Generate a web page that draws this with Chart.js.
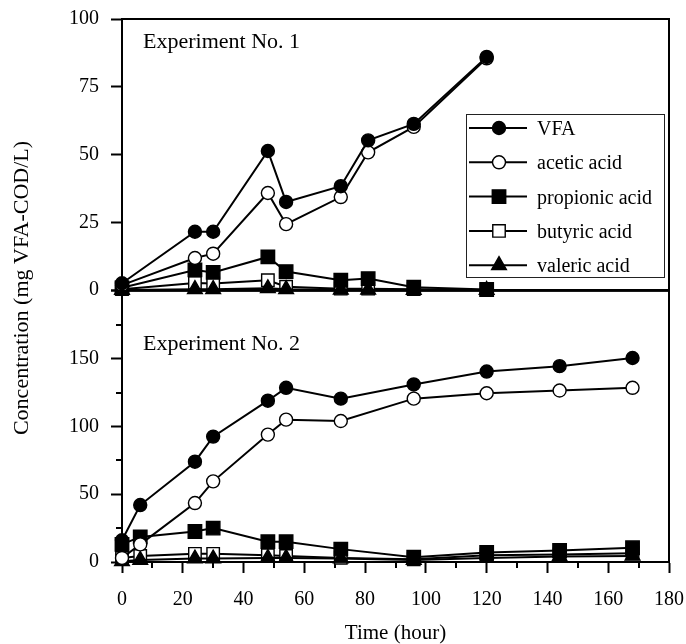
<!DOCTYPE html>
<html>
<head>
<meta charset="utf-8">
<script src="https://cdn.jsdelivr.net/npm/chart.js@4.4.0/dist/chart.umd.min.js"></script>
<style>
html,body{margin:0;padding:0;background:#fff;}
#wrap{position:relative;width:686px;height:644px;overflow:hidden;background:#fff;}
canvas{position:absolute;left:0;}
#c1{top:0;}
#c2{top:280px;}
</style>
</head>
<body>
<div id="wrap">
<canvas id="c1" width="686" height="644"></canvas>
<canvas id="c2" width="686" height="364"></canvas>
</div>
<script>
// ---------- data ----------
const seriesNames = ['VFA', 'acetic acid', 'propionic acid', 'butyric acid', 'valeric acid'];

// Experiment No. 1
const time1      = [0, 24, 30, 48, 54, 72, 81, 96, 120];
const vfa1       = [2.5, 21.5, 21.5, 51.3, 32.5, 38.3, 55.2, 61.3, 86];
const acetic1    = [1.8, 11.8, 13.4, 35.8, 24.3, 34.3, 50.8, 60.2, 85.5];
const propionic1 = [0.8, 7.4, 6.5, 12.2, 6.8, 3.6, 4.2, 1.0, 0.2];
const butyric1   = [0.3, 2.6, 2.4, 3.6, 1.2, 0.5, 0.5, 0.3, 0];
const valeric1   = [0, 0.3, 0.3, 0.6, 0.3, 0.1, 0.1, 0, 0];

// Experiment No. 2
const time2      = [0, 6, 24, 30, 48, 54, 72, 96, 120, 144, 168];
const vfa2       = [16, 42, 74, 92.5, 119, 128.5, 120.5, 131, 140.5, 144.5, 150.5];
const acetic2    = [3, 13, 43.5, 59.5, 94, 105, 104, 120.5, 124.5, 126.5, 128.5];
const propionic2 = [13, 18.5, 22.5, 25, 15, 15, 9.5, 3.5, 7, 8.5, 10.5];
const butyric2   = [3, 4.5, 6, 6, 5, 4.5, 3, 2, 5, 5.5, 6.5];
const valeric2   = [0.5, 1.5, 2.5, 2.5, 3, 3, 2.5, 1.5, 3, 4, 4.5];

// ticks and labels
const xTicks = [0, 20, 40, 60, 80, 100, 120, 140, 160, 180];
const xMinorTicks = [10, 30, 50, 70, 90, 110, 130, 150, 170];
const yTicksTop = [0, 25, 50, 75, 100];
const yTicksBottom = [0, 50, 100, 150, 200];
const yLabelsBottom = ['0', '50', '100', '150', ''];
const yMinorTicksBottom = [25, 75, 125, 175];
const panelLabels = ['Experiment No. 1', 'Experiment No. 2'];
const xTitle = 'Time (hour)';
const yTitle = 'Concentration (mg VFA-COD/L)';

// ---------- styles ----------
const FONT = "'Liberation Serif', 'Times New Roman', Times, serif";
Chart.defaults.font.family = FONT;
Chart.defaults.color = '#000';

const markerStyles = [
  {pointStyle: 'circle',   radius: 6.5, fill: '#000', order: 0},
  {pointStyle: 'circle',   radius: 6.5, fill: '#fff', order: 1},
  {pointStyle: 'rect',     radius: 9.5, fill: '#000', order: 3},
  {pointStyle: 'rect',     radius: 8.8, fill: '#fff', order: 4},
  {pointStyle: 'triangle', radius: 8.5, fill: '#000', order: 2}
];

function makeDatasets(t, arrs) {
  return arrs.map((vals, i) => ({
    label: seriesNames[i],
    data: t.map((x, j) => ({x: x, y: vals[j]})),
    borderColor: '#000',
    borderWidth: 2,
    backgroundColor: markerStyles[i].fill,
    pointBackgroundColor: markerStyles[i].fill,
    pointBorderColor: '#000',
    pointBorderWidth: 1.4,
    pointRadius: markerStyles[i].radius,
    pointStyle: markerStyles[i].pointStyle,
    order: markerStyles[i].order,
    clip: false,
    tension: 0,
    fill: false
  }));
}

function noPad(s) {
  s.paddingTop = 0; s.paddingBottom = 0; s.paddingLeft = 0; s.paddingRight = 0;
}

// ---------- plugins ----------
const framePlugin = {
  id: 'frame',
  beforeDatasetsDraw(chart) {
    const {ctx, chartArea: a} = chart;
    ctx.save();
    ctx.strokeStyle = '#000';
    ctx.lineWidth = 2;
    ctx.strokeRect(a.left, a.top, a.right - a.left, a.bottom - a.top);
    ctx.restore();
  }
};

const minorTickPlugin = {
  id: 'minorTicks',
  beforeDatasetsDraw(chart, args, opts) {
    if (!opts || !opts.enabled) return;
    const {ctx, scales} = chart;
    ctx.save();
    ctx.strokeStyle = '#000';
    ctx.lineWidth = 2;
    (opts.x || []).forEach(v => {
      const px = Math.round(scales.x.getPixelForValue(v));
      const y0 = chart.chartArea.bottom;
      ctx.beginPath(); ctx.moveTo(px, y0); ctx.lineTo(px, y0 + opts.len); ctx.stroke();
    });
    (opts.y || []).forEach(v => {
      const py = Math.round(scales.y.getPixelForValue(v));
      const x0 = chart.chartArea.left;
      ctx.beginPath(); ctx.moveTo(x0, py); ctx.lineTo(x0 - opts.len, py); ctx.stroke();
    });
    ctx.restore();
  }
};

const textPlugin = {
  id: 'panelText',
  afterDatasetsDraw(chart, args, opts) {
    if (!opts || !opts.text) return;
    const {ctx, chartArea: a} = chart;
    ctx.save();
    ctx.fillStyle = '#000';
    ctx.font = opts.size + 'px ' + FONT;
    ctx.textAlign = 'left';
    ctx.textBaseline = 'alphabetic';
    ctx.fillText(opts.text, a.left + opts.dx, a.top + opts.dy);
    if (opts.yTitle) {
      ctx.translate(opts.yTitleX, opts.yTitleY);
      ctx.rotate(-Math.PI / 2);
      ctx.textAlign = 'center';
      ctx.textBaseline = 'middle';
      ctx.font = opts.yTitleSize + 'px ' + FONT;
      ctx.fillText(opts.yTitle, 0, 0);
    }
    ctx.restore();
  }
};

function drawMarker(ctx, style, x, y) {
  ctx.fillStyle = style.fill;
  ctx.strokeStyle = '#000';
  ctx.lineWidth = 1.4;
  if (Chart.helpers && Chart.helpers.drawPoint) {
    Chart.helpers.drawPoint(ctx, {pointStyle: style.pointStyle, radius: style.radius, rotation: 0, borderWidth: 1.4}, x, y);
  } else {
    ctx.beginPath(); ctx.arc(x, y, style.radius, 0, Math.PI * 2); ctx.fill(); ctx.stroke();
  }
}

const boxLegendPlugin = {
  id: 'boxLegend',
  afterDatasetsDraw(chart, args, opts) {
    if (!opts || !opts.enabled) return;
    const {ctx, chartArea: a} = chart;
    const ds = chart.data.datasets;
    const left = a.left + opts.dx, top = a.top + opts.dy;
    ctx.save();
    ctx.fillStyle = '#fff';
    ctx.fillRect(left, top, opts.w, opts.h);
    ctx.strokeStyle = '#222';
    ctx.lineWidth = 1;
    ctx.strokeRect(left + 0.5, top + 0.5, opts.w, opts.h);
    ds.forEach((d, i) => {
      const cy = top + opts.first + i * opts.step;
      ctx.strokeStyle = '#000';
      ctx.lineWidth = 2;
      ctx.beginPath(); ctx.moveTo(left + 3, cy); ctx.lineTo(left + 61, cy); ctx.stroke();
      drawMarker(ctx, markerStyles[i], left + 33, cy);
      ctx.fillStyle = '#000';
      ctx.font = opts.size + 'px ' + FONT;
      ctx.textAlign = 'left';
      ctx.textBaseline = 'alphabetic';
      ctx.fillText(d.label, left + 71, cy + 7);
    });
    ctx.restore();
  }
};

const plugins = [framePlugin, minorTickPlugin, textPlugin, boxLegendPlugin];

// ---------- top chart ----------
new Chart(document.getElementById('c1'), {
  type: 'line',
  data: {datasets: makeDatasets(time1, [vfa1, acetic1, propionic1, butyric1, valeric1])},
  plugins: plugins,
  options: {
    responsive: false, animation: false, events: [],
    layout: {padding: {top: 19, right: 17, bottom: 354, left: 0}},
    plugins: {
      legend: {display: false}, tooltip: {enabled: false}, title: {display: false},
      panelText: {text: panelLabels[0], size: 22, dx: 21, dy: 29,
                  yTitle: yTitle, yTitleX: 22, yTitleY: 288, yTitleSize: 22},
      boxLegend: {enabled: true, dx: 344, dy: 95, w: 198, h: 163, first: 14, step: 34.3, size: 20},
      minorTicks: {enabled: false}
    },
    scales: {
      x: {type: 'linear', min: 0, max: 180, display: false, afterFit: noPad},
      y: {
        type: 'linear', min: 0, max: 100,
        afterBuildTicks: s => { s.ticks = yTicksTop.map(v => ({value: v})); },
        afterFit: s => { s.width = 122; noPad(s); },
        ticks: {font: {size: 20}, color: '#000', padding: 12},
        grid: {drawOnChartArea: false, tickLength: 11, tickWidth: 2, tickColor: '#000'},
        border: {display: true, color: '#000', width: 2}
      }
    }
  }
});

// ---------- bottom chart ----------
new Chart(document.getElementById('c2'), {
  type: 'line',
  data: {datasets: makeDatasets(time2, [vfa2, acetic2, propionic2, butyric2, valeric2])},
  plugins: plugins,
  options: {
    responsive: false, animation: false, events: [],
    layout: {padding: {top: 10, right: 17, bottom: 0, left: 0}},
    plugins: {
      legend: {display: false}, tooltip: {enabled: false}, title: {display: false},
      panelText: {text: panelLabels[1], size: 22, dx: 21, dy: 59},
      boxLegend: {enabled: false},
      minorTicks: {enabled: true, x: xMinorTicks, y: yMinorTicksBottom, len: 6}
    },
    scales: {
      x: {
        type: 'linear', min: 0, max: 180,
        afterBuildTicks: s => { s.ticks = xTicks.map(v => ({value: v})); },
        afterFit: s => { s.height = 82; noPad(s); },
        ticks: {font: {size: 20}, color: '#000', padding: 15, maxRotation: 0, autoSkip: false},
        grid: {drawOnChartArea: false, tickLength: 11, tickWidth: 2, tickColor: '#000'},
        border: {display: true, color: '#000', width: 2},
        title: {display: true, text: xTitle, font: {size: 21}, color: '#000', padding: {top: 0, bottom: -2}}
      },
      y: {
        type: 'linear', min: 0, max: 200,
        afterBuildTicks: s => { s.ticks = yTicksBottom.map(v => ({value: v})); },
        afterFit: s => { s.width = 122; noPad(s); },
        ticks: {font: {size: 20}, color: '#000', padding: 12,
                callback: (v, i) => yLabelsBottom[i]},
        grid: {drawOnChartArea: false, tickLength: 11, tickWidth: 2, tickColor: '#000'},
        border: {display: true, color: '#000', width: 2}
      }
    }
  }
});
</script>
</body>
</html>
